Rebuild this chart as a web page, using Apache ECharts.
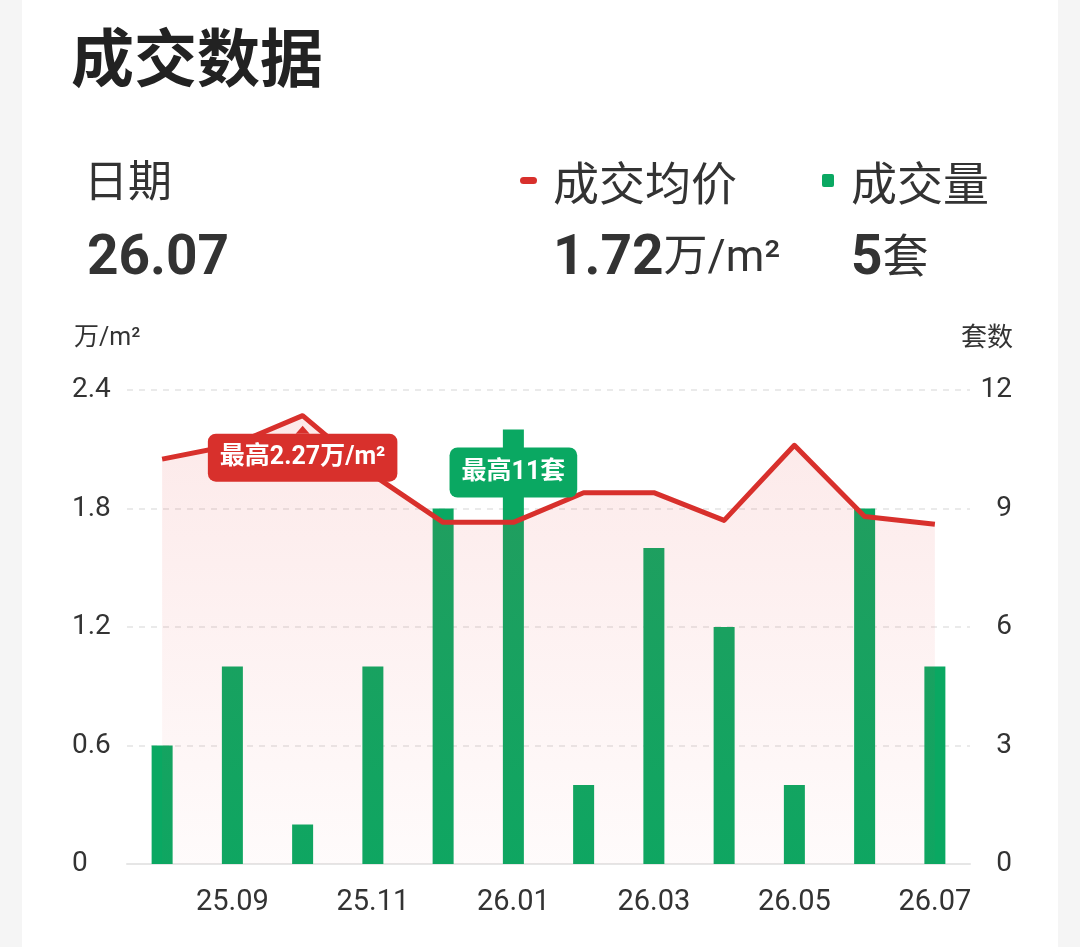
<!doctype html>
<html>
<head>
    <meta charset="utf-8">
    <title>成交数据</title>
    <style>
    html, body {
      margin: 0;
      padding: 0;
      background: #f5f5f5;
    }
    #main {
      width: 1080px;
      height: 947px;
    }
    </style>
</head>
<body>
    <div id="main"></div>
    <script src="https://cdn.jsdelivr.net/npm/echarts@6/dist/echarts.min.js"></script>
    <script>
    // 月份
    var months = ['25.08', '25.09', '25.10', '25.11', '25.12', '26.01', '26.02', '26.03', '26.04', '26.05', '26.06', '26.07'];
    // 成交均价 (万/m²)
    var avgPrice = [2.05, 2.12, 2.27, 1.97, 1.73, 1.73, 1.88, 1.88, 1.74, 2.12, 1.76, 1.72];
    // 成交量 (套)
    var volume = [3, 5, 1, 5, 9, 11, 2, 8, 6, 2, 9, 5];
    // 刻度
    var priceTicks = { min: 0, max: 2.4, interval: 0.6 };
    var volumeTicks = { min: 0, max: 12, interval: 3 };

    var FONT = 'Roboto, "Noto Sans CJK SC", sans-serif';
    var RED = '#d8302c';
    var GREEN = '#0aa862';

    var last = months.length - 1;

    var chart = echarts.init(document.getElementById('main'));

    chart.setOption({
        animation: false,
        textStyle: { fontFamily: FONT },
        grid: { left: 127, right: 110, top: 390, bottom: 83 },
        graphic: [
            // 白色卡片
            { type: 'rect', z: -10, shape: { x: 22, y: 0, width: 1036, height: 947 }, style: { fill: '#fff' } },
            { type: 'text', x: 71, y: 65, style: { text: '成交数据', font: 'bold 63px ' + FONT, fill: '#222', verticalAlign: 'middle' } },
            { type: 'text', x: 84, y: 186, style: { text: '日期', font: '44px ' + FONT, fill: '#333', verticalAlign: 'middle' } },
            { type: 'text', x: 87, y: 260, style: { text: months[last], font: 'bold 55px ' + FONT, fill: '#333', verticalAlign: 'middle' } },
            // 图例
            { type: 'rect', shape: { x: 520, y: 177, width: 17, height: 7, r: 3.5 }, style: { fill: RED } },
            { type: 'text', x: 553, y: 188, style: { text: '成交均价', font: '46px ' + FONT, fill: '#333', verticalAlign: 'middle' } },
            { type: 'rect', shape: { x: 822, y: 174, width: 12, height: 13, r: 2 }, style: { fill: GREEN } },
            { type: 'text', x: 851, y: 188, style: { text: '成交量', font: '46px ' + FONT, fill: '#333', verticalAlign: 'middle' } },
            {
                type: 'text', x: 553, y: 260,
                style: {
                    text: '{b|' + avgPrice[last] + '}{u|万/m²}',
                    verticalAlign: 'middle',
                    rich: {
                        b: { font: 'bold 55px ' + FONT, fill: '#333' },
                        u: { font: '44px ' + FONT, fill: '#333' }
                    }
                }
            },
            {
                type: 'text', x: 851, y: 260,
                style: {
                    text: '{b|' + volume[last] + '}{u|套}',
                    verticalAlign: 'middle',
                    rich: {
                        b: { font: 'bold 55px ' + FONT, fill: '#333' },
                        u: { font: '46px ' + FONT, fill: '#333' }
                    }
                }
            },
            // 坐标轴名称
            { type: 'text', x: 74, y: 339, style: { text: '万/m²', font: '25px ' + FONT, fill: '#333', verticalAlign: 'middle' } },
            { type: 'text', x: 1013, y: 339, style: { text: '套数', font: '26px ' + FONT, fill: '#333', verticalAlign: 'middle', align: 'right' } }
        ],
        xAxis: {
            type: 'category',
            data: months,
            axisTick: { show: false },
            axisLine: { lineStyle: { color: '#e6e6e6', width: 2 } },
            axisLabel: {
                color: '#333',
                fontSize: 29,
                margin: 24,
                interval: function (i) { return i % 2 === 1; }
            }
        },
        yAxis: [{
            type: 'value',
            min: priceTicks.min,
            max: priceTicks.max,
            interval: priceTicks.interval,
            axisLabel: {
                color: '#333',
                fontSize: 28,
                align: 'left',
                margin: 55,
                formatter: function (v) { return v === 0 ? '0' : v.toFixed(1); }
            },
            splitLine: { lineStyle: { color: '#e3e3e3', type: [6, 6], width: 1.5 } }
        }, {
            type: 'value',
            min: volumeTicks.min,
            max: volumeTicks.max,
            interval: volumeTicks.interval,
            axisLabel: { color: '#333', fontSize: 28, align: 'right', margin: 42 },
            splitLine: { show: false }
        }],
        series: [{
            name: '成交量',
            type: 'bar',
            yAxisIndex: 1,
            barWidth: 21,
            data: volume,
            itemStyle: { color: GREEN },
            markPoint: {
                symbol: 'rect',
                symbolSize: [1, 1],
                itemStyle: { color: 'rgba(0,0,0,0)' },
                label: {
                    show: true,
                    offset: [0, 43],
                    formatter: '最高{c}套',
                    color: '#fff',
                    fontSize: 25,
                    fontWeight: 'bold',
                    backgroundColor: GREEN,
                    borderRadius: 8,
                    padding: [13, 12, 12, 12]
                },
                data: [{ type: 'max' }]
            }
        }, {
            name: '成交均价',
            type: 'line',
            data: avgPrice,
            showSymbol: false,
            symbol: 'none',
            lineStyle: { color: RED, width: 5, join: 'round' },
            itemStyle: { color: RED },
            areaStyle: {
                color: new echarts.graphic.LinearGradient(0, 0, 0, 1, [
                    { offset: 0, color: 'rgba(232,70,70,0.17)' },
                    { offset: 1, color: 'rgba(232,70,70,0.03)' }
                ])
            },
            markPoint: {
                symbol: 'triangle',
                symbolSize: [14, 8],
                symbolOffset: [0, 14],
                itemStyle: { color: RED },
                label: {
                    show: true,
                    offset: [0, 28],
                    formatter: '最高{c}万/m²',
                    color: '#fff',
                    fontSize: 25,
                    fontWeight: 'bold',
                    backgroundColor: RED,
                    borderRadius: 8,
                    padding: [12, 12, 11, 12]
                },
                data: [{ type: 'max' }]
            }
        }]
    });
    </script>
</body>
</html>
